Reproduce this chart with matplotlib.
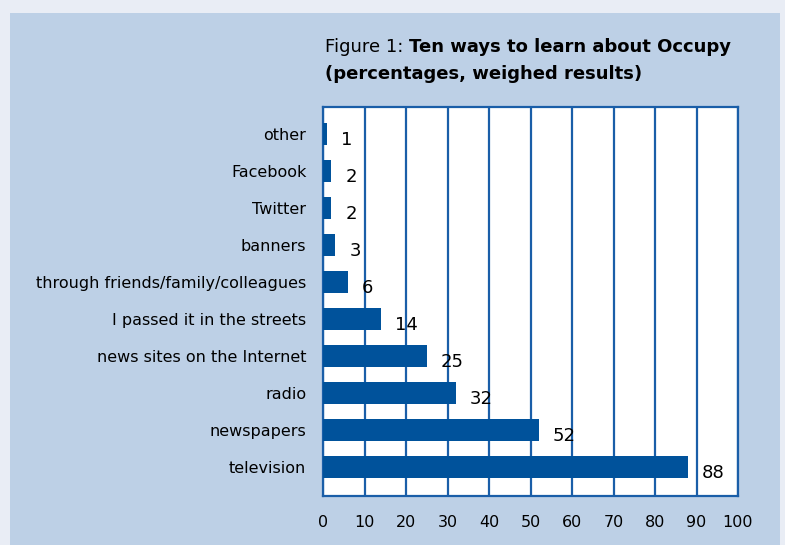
import matplotlib
matplotlib.use('Agg')
import matplotlib.pyplot as plt
from matplotlib.patches import Rectangle

# Gegevens (van onder naar boven)
categories = ['television', 'newspapers', 'radio', 'news sites on the Internet',
              'I passed it in the streets', 'through friends/family/colleagues',
              'banners', 'Twitter', 'Facebook', 'other']
values = [88, 52, 32, 25, 14, 6, 3, 2, 2, 1]
xticks = [0, 10, 20, 30, 40, 50, 60, 70, 80, 90, 100]

plt.rcParams['font.family'] = ['DejaVu Sans']

blauw = '#00529b'
lijn = '#1a5ea8'

fig = plt.figure(figsize=(7.85, 5.45), dpi=100)
fig.patch.set_facecolor('#e9edf5')
# paneel achter de grafiek
fig.patches.append(Rectangle((10 / 785, 0), 770 / 785, 1 - 13 / 545,
                             transform=fig.transFigure, facecolor='#bdd0e6',
                             edgecolor='none', zorder=0))

ax = fig.add_axes([323 / 785, 1 - 496 / 545, 415 / 785, 389 / 545])
ax.set_facecolor('white')
ax.set_zorder(1)

y = list(range(len(categories)))
ax.barh(y, values, height=0.6, color=blauw, zorder=3)

ax.set_xlim(0, 100)
ax.set_ylim(-0.78, 9.73)
ax.set_xticks(xticks)
ax.set_xticklabels([str(t) for t in xticks], fontsize=11.5)
ax.set_yticks(y)
ax.set_yticklabels(categories, fontsize=11.5)
ax.tick_params(length=0)
ax.tick_params(axis='x', pad=14)
ax.tick_params(axis='y', pad=12)
ax.grid(axis='x', color=lijn, linewidth=1.6, zorder=1)
for s in ax.spines.values():
    s.set_color(lijn)
    s.set_linewidth(1.6)

# waarden naast de balken
for yi, v in zip(y, values):
    ax.annotate(str(v), (v, yi), xytext=(10, -4), textcoords='offset points',
                ha='left', va='center', fontsize=13, zorder=4)

# titel: normaal + vet
x0 = 325 / 785
t1 = fig.text(x0, 1 - 47 / 545, 'Figure 1: ', fontsize=13, va='center')
fig.canvas.draw()
bb = t1.get_window_extent()
fig.text(bb.x1 / fig.bbox.width, 1 - 47 / 545, 'Ten ways to learn about Occupy',
         fontsize=13, fontweight='bold', va='center')
fig.text(x0, 1 - 74 / 545, '(percentages, weighed results)',
         fontsize=13, fontweight='bold', va='center')

plt.savefig('out.png', dpi=100, facecolor=fig.get_facecolor())
